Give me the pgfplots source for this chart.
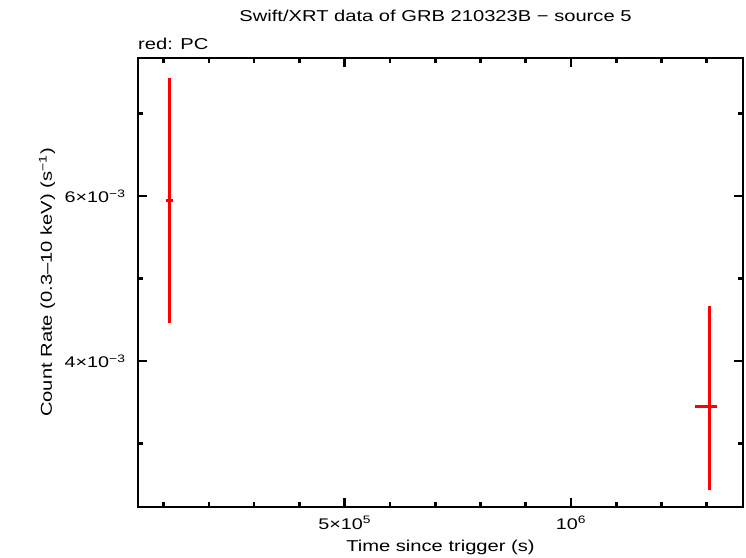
\documentclass[border=0pt]{standalone}
\usepackage{pgfplots}
\pgfplotsset{compat=1.18}
\usepackage{pgfplotstable}
\usepackage{fontspec}
\setmainfont{Liberation Sans}[FakeStretch=1.28]
\pgfplotstableread{
x y exp exm eyp eym
112500 0.005943 8200 8200 0.001485 0.001488
1307000 0.003448 16000 34000 0.001222 0.001014
}\pcdata
\begin{document}
\begin{tikzpicture}
\path[use as bounding box] (0,0) rectangle (746bp,558bp);
\begin{axis}[
  at={(138bp,51bp)}, anchor=south west,
  scale only axis, width=605bp, height=449bp,
  xmin=43300, xmax=1380000, ymin=0.002232, ymax=0.007671,
  scaled ticks=false,
  xtick={500000,1000000},
  xticklabels={5×10\textsuperscript{5},10\textsuperscript{6}},
  minor xtick={100000,200000,300000,400000,600000,700000,800000,900000,1100000,1200000,1300000},
  ytick={0.004,0.006},
  yticklabels={4×10\textsuperscript{−3},6×10\textsuperscript{−3}},
  minor ytick={0.003,0.005,0.007},
  tick align=inside, major tick length=9bp, minor tick length=5bp,
  axis line style={line width=2.6bp}, every tick/.style={black,line width=2.6bp},
  tick label style={font=\fontsize{15.5}{18}\selectfont},
  xticklabel style={anchor=base, yshift=-22bp},
  yticklabel style={xshift=-9bp},
  label style={font=\fontsize{15.8}{18}\selectfont},
  xlabel={Time since trigger (s)},
  xlabel style={at={(axis description cs:0.5,-0.0980)}, anchor=base},
  ylabel={Count Rate (0.3–10 keV) (s\textsuperscript{−1})},
  ylabel style={at={(axis description cs:-0.1504,0.5)}, anchor=center},
  title={Swift/XRT data of GRB 210323B − source 5},
  title style={font=\fontsize{15.8}{18}\selectfont, at={(axis description cs:0.4917,1.069)}, anchor=base},
]
\addplot[red, only marks, mark=none,
  error bars/.cd, x dir=both, x explicit, y dir=both, y explicit,
  error mark=none, error bar style={line width=3bp, red}]
  table[x=x, y=y, x error plus=exp, x error minus=exm, y error plus=eyp, y error minus=eym] {\pcdata};
\end{axis}
\node[anchor=base west, inner sep=0pt, font=\fontsize{15.8}{18}\selectfont] at (138bp,508bp) {red: PC};
\end{tikzpicture}
\end{document}
